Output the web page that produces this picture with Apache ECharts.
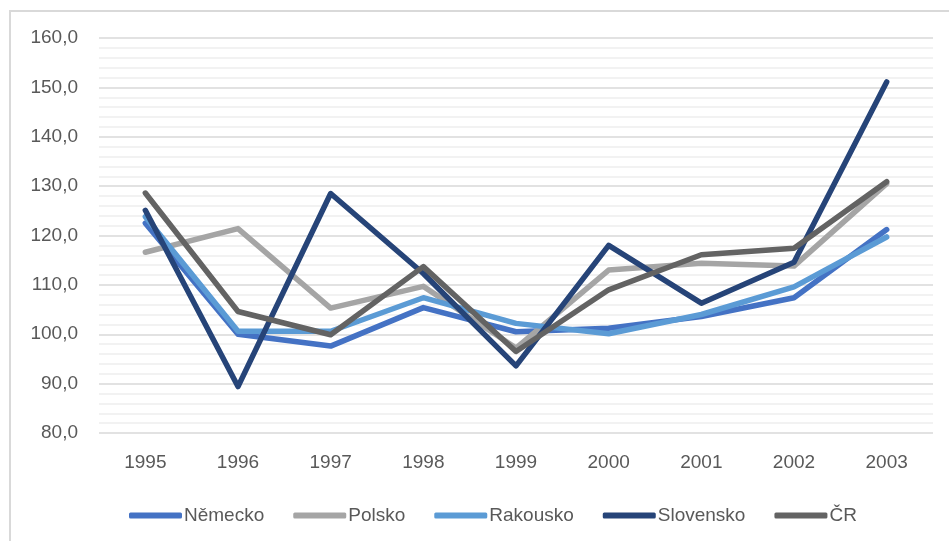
<!DOCTYPE html>
<html lang="cs">
<head>
<meta charset="utf-8">
<title>Index 1995–2003</title>
<script src="https://cdn.jsdelivr.net/npm/echarts@6/dist/echarts.min.js"></script>
<style>
    html, body { margin: 0; padding: 0; background: #fff; }
    #chart { width: 949px; height: 541px; }
</style>
</head>
<body>
<div id="chart"></div>
<script>
// === 数据 (Data) ===
const years = ['1995', '1996', '1997', '1998', '1999', '2000', '2001', '2002', '2003'];

const nemecko    = [122.5, 100.0, 97.6, 105.4, 100.5, 101.2, 103.6, 107.4, 121.2];
const polsko     = [116.6, 121.4, 105.3, 109.7, 97.2, 113.0, 114.4, 113.8, 130.5];
const rakousko   = [123.8, 100.6, 100.6, 107.4, 102.2, 100.1, 104.0, 109.6, 119.7];
const slovensko  = [125.1, 89.4, 128.5, 112.3, 93.6, 118.0, 106.3, 114.6, 151.1];
const cr         = [128.6, 104.6, 99.9, 113.7, 96.5, 109.0, 116.1, 117.4, 130.9];

const seriesNames = ['Německo', 'Polsko', 'Rakousko', 'Slovensko', 'ČR'];
const seriesData  = [nemecko, polsko, rakousko, slovensko, cr];
const seriesColors = ['#4472C4', '#A5A5A5', '#5B9BD5', '#264478', '#636363'];

const yTicks = { min: 80, max: 160, step: 10 };

// === 图表渲染 ===
const FONT = '"Liberation Sans", Arial, sans-serif';
const chart = echarts.init(document.getElementById('chart'), null, { renderer: 'canvas' });

const option = {
    animation: false,
    backgroundColor: '#fff',
    color: seriesColors,
    textStyle: { fontFamily: FONT },
    // 外框 (outer frame, only top/left visible)
    graphic: [{
        type: 'rect',
        shape: { x: 10, y: 11, width: 1000, height: 600 },
        style: { fill: 'none', stroke: '#D9D9D9', lineWidth: 2 },
        silent: true
    }],
    grid: { left: 99, right: 16, top: 38, bottom: 108 },
    legend: {
        left: 124,
        top: 501,
        itemWidth: 53,
        itemHeight: 6,
        itemGap: 29,
        icon: 'roundRect',
        textStyle: { color: '#595959', fontSize: 19, fontFamily: FONT, padding: [0, 0, 0, -3] },
        data: seriesNames
    },
    xAxis: {
        type: 'category',
        data: years,
        boundaryGap: true,
        axisLine: { show: false },
        axisTick: { show: false },
        axisLabel: { color: '#595959', fontSize: 19, margin: 20 }
    },
    yAxis: {
        type: 'value',
        min: yTicks.min,
        max: yTicks.max,
        interval: yTicks.step,
        axisLine: { show: false },
        axisTick: { show: false },
        axisLabel: {
            color: '#595959',
            fontSize: 19,
            margin: 21,
            formatter: v => v.toFixed(1).replace('.', ',')
        },
        splitLine: { lineStyle: { color: '#D9D9D9', width: 1.5 } },
        minorTick: { show: false, splitNumber: 5 },
        minorSplitLine: { show: true, lineStyle: { color: '#EEEEEE', width: 1.5 } }
    },
    series: seriesNames.map((name, i) => ({
        name: name,
        type: 'line',
        data: seriesData[i],
        symbol: 'none',
        lineStyle: { width: 5.5, cap: 'round', join: 'round', color: seriesColors[i] }
    }))
};

chart.setOption(option);
</script>
</body>
</html>
